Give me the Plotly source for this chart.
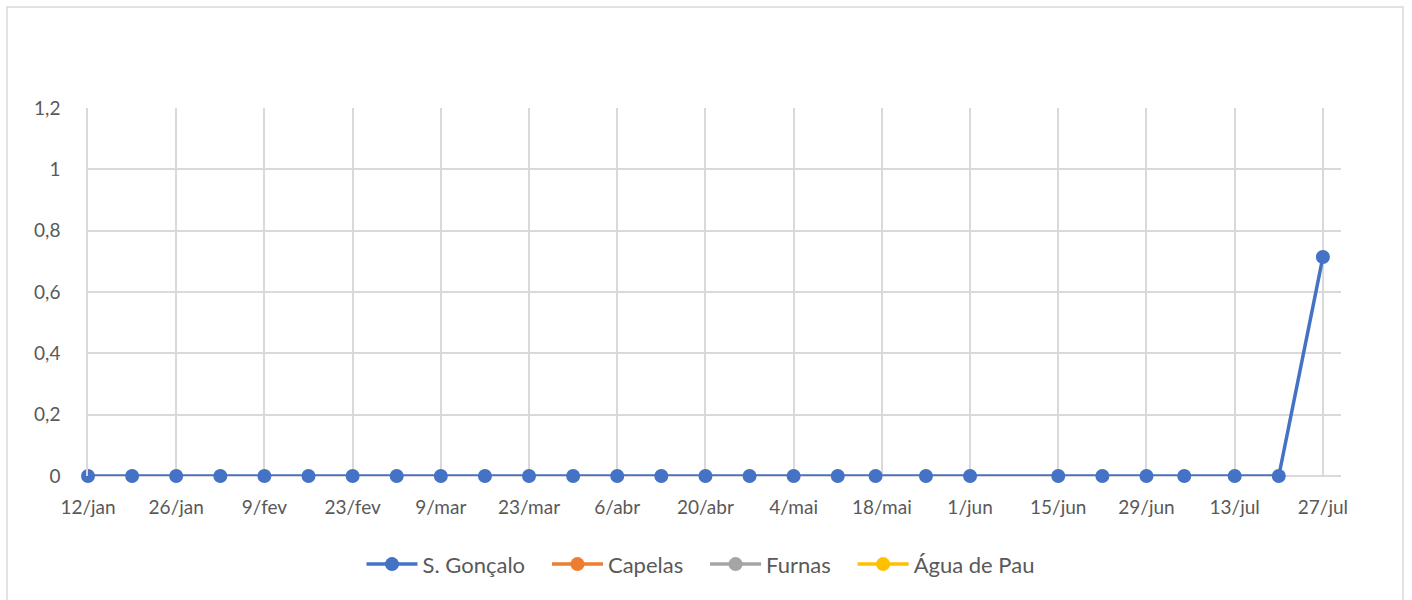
import plotly.graph_objects as go

# ---- data ----
dates = ["2021-01-12", "2021-01-19", "2021-01-26", "2021-02-02", "2021-02-09", "2021-02-16",
         "2021-02-23", "2021-03-02", "2021-03-09", "2021-03-16", "2021-03-23", "2021-03-30",
         "2021-04-06", "2021-04-13", "2021-04-20", "2021-04-27", "2021-05-04", "2021-05-11",
         "2021-05-17", "2021-05-25", "2021-06-01", "2021-06-15", "2021-06-22", "2021-06-29",
         "2021-07-05", "2021-07-13", "2021-07-20", "2021-07-27"]
s_goncalo = [0] * 27 + [0.714]
capelas = [None] * len(dates)
furnas = [None] * len(dates)
agua_de_pau = [None] * len(dates)

tick_dates = ["2021-01-12", "2021-01-26", "2021-02-09", "2021-02-23", "2021-03-09", "2021-03-23",
              "2021-04-06", "2021-04-20", "2021-05-04", "2021-05-18", "2021-06-01", "2021-06-15",
              "2021-06-29", "2021-07-13", "2021-07-27"]
tick_labels = ["12/jan", "26/jan", "9/fev", "23/fev", "9/mar", "23/mar", "6/abr", "20/abr",
               "4/mai", "18/mai", "1/jun", "15/jun", "29/jun", "13/jul", "27/jul"]

series_names = ["S. Gonçalo", "Capelas", "Furnas", "Água de Pau"]
series_values = [s_goncalo, capelas, furnas, agua_de_pau]
series_colors = ["#4472C4", "#ED7D31", "#A5A5A5", "#FFC000"]

pad = "\u00a0" * 3  # invisible trailing spacing between legend entries

fig = go.Figure()
for name, vals, color in zip(series_names, series_values, series_colors):
    fig.add_trace(go.Scatter(
        x=dates, y=vals, name=name + pad, mode="lines+markers",
        line=dict(color=color, width=3.5),
        marker=dict(color=color, size=14),
        cliponaxis=False,
    ))

font_family = "Lato, 'Open Sans', sans-serif"
grid = "#D9D9D9"
txt = "#595959"

fig.update_layout(
    width=1412, height=600,
    paper_bgcolor="white", plot_bgcolor="white",
    margin=dict(l=88, r=71, t=108, b=124, autoexpand=False),
    separators=", ",
    font=dict(family=font_family, size=19, color=txt),
    showlegend=True,
    legend=dict(orientation="h", x=(709 - 88) / 1253, xanchor="center", y=-0.24, yanchor="middle",
                font=dict(size=22, color=txt), itemwidth=51),
    xaxis=dict(
        type="date",
        range=["2021-01-12", "2021-07-29 21:00"],
        tickvals=tick_dates, ticktext=tick_labels,
        showgrid=True, gridcolor=grid, gridwidth=1.5,
        showline=False, zeroline=False, ticks="", ticklabelstandoff=18,
        tickfont=dict(size=19, color=txt),
    ),
    yaxis=dict(
        range=[0, 1.2], dtick=0.2, tick0=0,
        showgrid=True, gridcolor=grid, gridwidth=1.5,
        zeroline=True, zerolinecolor=grid, zerolinewidth=1.5,
        showline=True, linecolor=grid, linewidth=1.5,
        ticks="", ticklabelstandoff=22,
        tickfont=dict(size=19, color=txt),
    ),
    shapes=[dict(type="rect", xref="paper", yref="paper",
                 x0=(7 - 88) / 1253, x1=(1403 - 88) / 1253,
                 y0=(476 - 610) / 368, y1=(476 - 7) / 368,
                 line=dict(color="#D9D9D9", width=1.5), fillcolor="rgba(0,0,0,0)", layer="below")],
)

fig.write_html("out.html", config={"displayModeBar": False},
               post_script="document.body.style.margin='0';document.body.style.overflow='hidden';")
